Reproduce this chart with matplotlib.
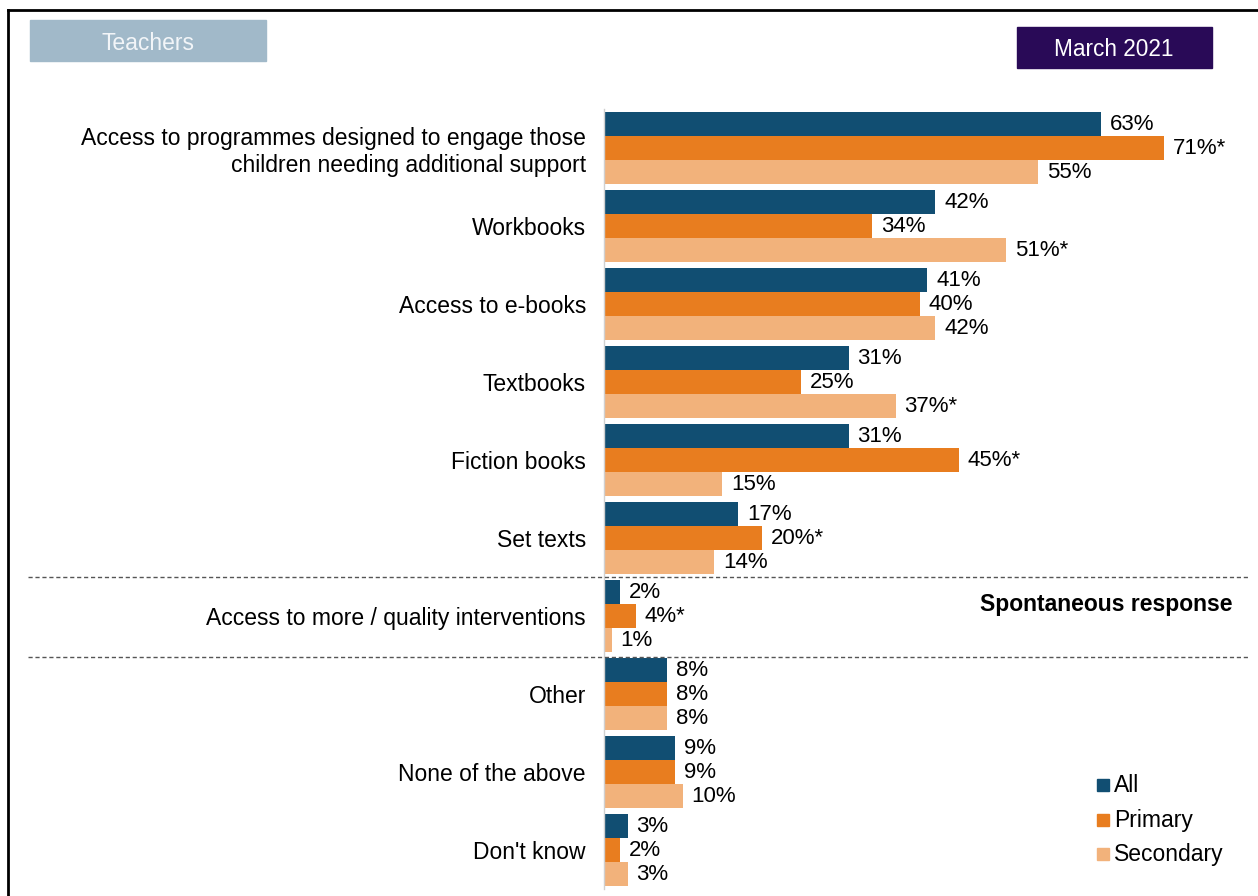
import matplotlib.pyplot as plt
from matplotlib.patches import Rectangle
from matplotlib.lines import Line2D

plt.rcParams['font.family'] = ['Liberation Sans', 'DejaVu Sans']

categories = ['Access to programmes designed to engage those\nchildren needing additional support',
              'Workbooks', 'Access to e-books', 'Textbooks', 'Fiction books', 'Set texts',
              'Access to more / quality interventions', 'Other', 'None of the above', "Don't know"]
all_vals = [63, 42, 41, 31, 31, 17, 2, 8, 9, 3]
primary_vals = [71, 34, 40, 25, 45, 20, 4, 8, 9, 2]
secondary_vals = [55, 51, 42, 37, 15, 14, 1, 8, 10, 3]
primary_sig = [True, False, False, False, True, True, True, False, False, False]
secondary_sig = [False, True, False, True, False, False, False, False, False, False]
series_names = ['All', 'Primary', 'Secondary']
colors = ['#114E72', '#E87D1F', '#F2B27B']

W, H = 1258, 896
fig = plt.figure(figsize=(W / 100, H / 100), dpi=100)

# axes: x=0 at px 604, 7.89 px per %; rows 78 px apart, first centre at 148
x0, ppu = 604, 7.89
xmax = 80
top_px, bot_px = 109, 889
ax = fig.add_axes([x0 / W, 1 - bot_px / H, xmax * ppu / W, (bot_px - top_px) / H])

n = len(categories)
pos = list(range(n))
bh = 24 / 78
series = [all_vals, primary_vals, secondary_vals]
sigs = [[False] * n, primary_sig, secondary_sig]
for k, (vals, sig, c, name) in enumerate(zip(series, sigs, colors, series_names)):
    ys = [p + (k - 1) * bh for p in pos]
    ax.barh(ys, vals, height=bh * 0.98, color=c, label=name)
    for y, v, s in zip(ys, vals, sig):
        ax.text(v + 1.1, y, f'{v}%' + ('*' if s else ''), va='center', ha='left', fontsize=16)

ax.set_xlim(0, xmax)
ax.set_ylim(n - 0.5, -0.5)
ax.set_yticks(pos)
ax.set_yticklabels(categories, fontsize=16.5, ha='right', linespacing=1.2)
ax.tick_params(axis='y', length=0, pad=13)
ax.set_xticks([])
for s in ['top', 'right', 'bottom']:
    ax.spines[s].set_visible(False)
ax.spines['left'].set_color('#D0D0D0')
ax.spines['left'].set_linewidth(1)

# dashed separators
for ypx in [577, 657]:
    fig.add_artist(Line2D([28 / W, 1250 / W], [1 - ypx / H] * 2, color='#555555',
                         linestyle=(0, (3, 2)), linewidth=1))

fig.text(1232 / W, 1 - 604 / H, 'Spontaneous response', ha='right', va='center',
         fontsize=16.5, fontweight='bold')

# outer frame
fig.add_artist(Line2D([8 / W, 8 / W], [0, 1 - 10 / H], color='black', linewidth=2))
fig.add_artist(Line2D([8 / W, 1], [1 - 10 / H] * 2, color='black', linewidth=2))

# header boxes
fig.add_artist(Rectangle((30 / W, 1 - 61 / H), 236 / W, 41 / H, color='#A1B9C9'))
fig.text(148 / W, 1 - 43 / H, 'Teachers', ha='center', va='center', fontsize=16.5, color='#F2F5F8')
fig.add_artist(Rectangle((1017 / W, 1 - 68 / H), 195 / W, 41 / H, color='#290A57'))
fig.text(1114 / W, 1 - 49 / H, 'March 2021', ha='center', va='center', fontsize=16.3, color='white')

# legend
leg_y = [785, 820, 854]
for c, name, ypx in zip(colors, series_names, leg_y):
    fig.add_artist(Rectangle((1097 / W, 1 - (ypx + 6) / H), 12 / W, 12 / H, color=c))
    fig.text(1114 / W, 1 - ypx / H, name, ha='left', va='center', fontsize=16.5)

fig.savefig('out.png', dpi=100)
